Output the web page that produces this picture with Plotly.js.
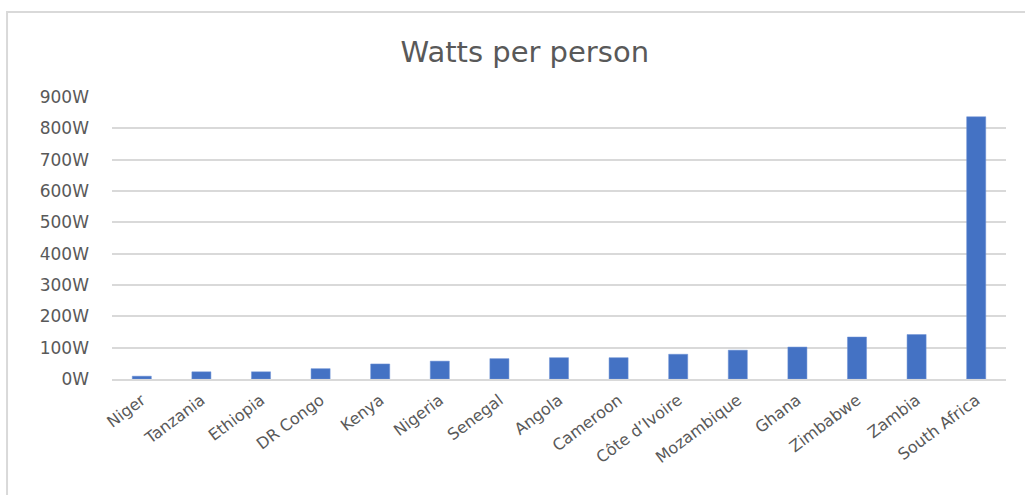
<!DOCTYPE html>
<html>
<head>
<meta charset="utf-8">
<script src="https://cdn.plot.ly/plotly-3.0.1.min.js"></script>
<style>
html,body{margin:0;padding:0;background:#fff;}
#chart{width:1025px;height:495px;}
</style>
</head>
<body>
<div id="chart"></div>
<script>
const countries = ["Niger","Tanzania","Ethiopia","DR Congo","Kenya","Nigeria","Senegal","Angola","Cameroon","Côte d’Ivoire","Mozambique","Ghana","Zimbabwe","Zambia","South Africa"];
const wattsPerPerson = [9, 23, 23, 33, 48, 57, 65, 68, 68, 79, 92, 102, 134, 142, 837];
const yTickValues = [0,100,200,300,400,500,600,700,800,900];
const yTickLabels = yTickValues.map(v => v + "W");

const FONT = "DejaVu Sans, Open Sans, sans-serif";

const trace = {
  type: "bar",
  x: countries,
  y: wattsPerPerson,
  marker: {color: "#4472C4", line: {color: "#6f93d6", width: 0.5}},
  hoverinfo: "x+y"
};

const layout = {
  width: 1025,
  height: 495,
  margin: {l: 112, r: 19, t: 97, b: 116},
  paper_bgcolor: "#ffffff",
  plot_bgcolor: "#ffffff",
  bargap: 0.68,
  showlegend: false,
  title: {
    text: "Watts per person",
    x: 0.512, xanchor: "center",
    y: 0.895, yanchor: "middle",
    font: {family: FONT, size: 29, color: "#595959"}
  },
  xaxis: {
    type: "category",
    tickangle: -37,
    tickfont: {family: FONT, size: 16, color: "#595959"},
    showgrid: false,
    showline: true,
    linecolor: "#d9d9d9",
    linewidth: 1.5,
    ticks: "",
    ticklabelstandoff: 4,
    fixedrange: true
  },
  yaxis: {
    range: [0, 900],
    tickvals: yTickValues,
    ticktext: yTickLabels,
    tickfont: {family: FONT, size: 17, color: "#595959"},
    showgrid: true,
    gridcolor: "#d9d9d9",
    gridwidth: 1.5,
    zeroline: false,
    showline: false,
    ticks: "",
    ticklabelstandoff: 22,
    fixedrange: true
  },
  shapes: [{
    type: "rect", xref: "paper", yref: "paper",
    x0: -0.1174, x1: 1.2, y0: -0.5, y1: 1.3014,
    line: {color: "#d9d9d9", width: 2},
    fillcolor: "rgba(0,0,0,0)",
    layer: "below"
  }]
};

Plotly.newPlot("chart", [trace], layout, {displayModeBar: false});
</script>
</body>
</html>
